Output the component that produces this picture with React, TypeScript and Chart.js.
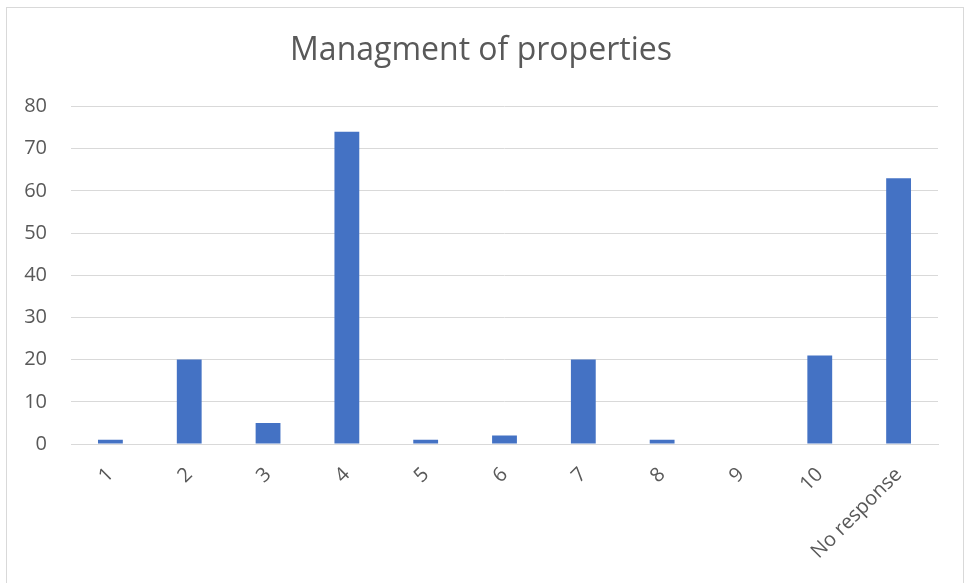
import React, { useEffect, useRef } from "react";
import { Chart, registerables } from "chart.js";

Chart.register(...registerables);

const categories = ["1", "2", "3", "4", "5", "6", "7", "8", "9", "10", "No response"];
const counts = [1, 20, 5, 74, 1, 2, 20, 1, 0, 21, 63];
const yTicks = [0, 10, 20, 30, 40, 50, 60, 70, 80];
const title = "Managment of properties";

export default function App() {
  const ref = useRef<HTMLCanvasElement | null>(null);
  useEffect(() => {
    if (!ref.current) return;
    const chart = new Chart(ref.current, {
      type: "bar",
      data: {
        labels: categories,
        datasets: [
          {
            data: counts,
            backgroundColor: "#4472C4",
            categoryPercentage: 1,
            barPercentage: 0.315,
          },
        ],
      },
      options: {
        animation: false,
        responsive: false,
        maintainAspectRatio: false,
        layout: { padding: { left: 24, right: 32, top: 0, bottom: 0 } },
        plugins: {
          legend: { display: false },
          tooltip: { enabled: false },
          title: {
            display: true,
            text: title,
            color: "#595959",
            font: { family: "Open Sans", size: 32, weight: "normal" },
            padding: { top: 32, bottom: 36 },
          },
        },
        scales: {
          x: {
            afterFit: (scale: any) => {
              scale.height = 139;
            },
            grid: { display: false, drawTicks: false },
            border: { display: true, color: "#d9d9d9", width: 1 },
            ticks: {
              color: "#595959",
              font: { family: "Open Sans", size: 20 },
              minRotation: 45,
              maxRotation: 45,
              padding: 19,
              autoSkip: false,
            },
          },
          y: {
            min: 0,
            max: 80,
            afterFit: (scale: any) => {
              scale.width = 47;
            },
            afterBuildTicks: (scale: any) => {
              scale.ticks = yTicks.map((v) => ({ value: v }));
            },
            grid: { color: "#d9d9d9", lineWidth: 1, drawTicks: false },
            border: { display: false },
            ticks: {
              color: "#595959",
              font: { family: "Open Sans", size: 20 },
              padding: 24,
            },
          },
        },
      },
    });
    return () => chart.destroy();
  }, []);
  return (
    <div style={{ position: "fixed", left: 0, top: 0, width: 970, height: 583, background: "#fff" }}>
      <div
        style={{
          position: "absolute",
          left: 6,
          top: 7,
          width: 958,
          height: 600,
          border: "1px solid #d9d9d9",
          boxSizing: "border-box",
        }}
      />
      <canvas ref={ref} width={970} height={583} style={{ position: "absolute", left: 0, top: 0 }} />
    </div>
  );
}
